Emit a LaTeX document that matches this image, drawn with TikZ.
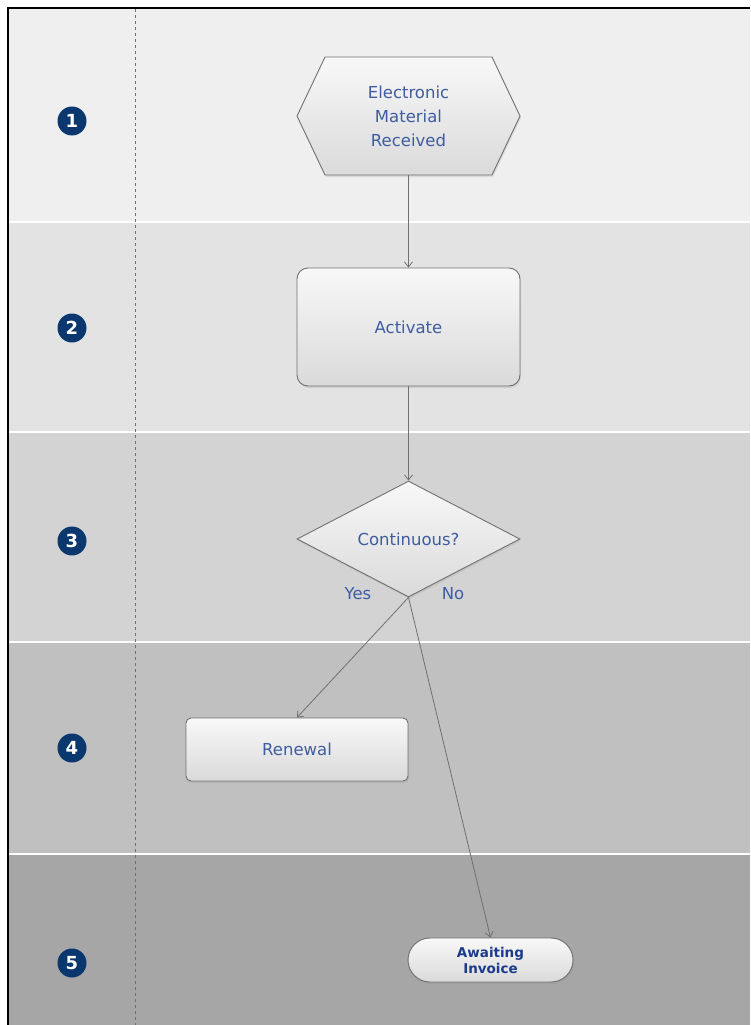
\documentclass[tikz,border=0pt]{standalone}
\usepackage{fontspec}
\setmainfont{DejaVu Sans}
\usetikzlibrary{shapes.geometric,shapes.misc,arrows.meta,shadows}
\definecolor{bandA}{RGB}{239,239,239}
\definecolor{bandB}{RGB}{227,227,227}
\definecolor{bandC}{RGB}{211,211,211}
\definecolor{bandD}{RGB}{192,192,192}
\definecolor{bandE}{RGB}{166,166,166}
\definecolor{navy}{RGB}{10,55,110}
\definecolor{txtblue}{RGB}{62,92,160}
\definecolor{boldblue}{RGB}{28,58,140}
\definecolor{edgegray}{RGB}{112,112,112}
\definecolor{boxtop}{RGB}{248,248,248}
\definecolor{boxbot}{RGB}{218,218,218}
\begin{document}
\begin{tikzpicture}[x=1pt,y=-1pt,
  num/.style={circle,fill=navy,minimum size=29pt,inner sep=0pt,text=white,font=\bfseries\fontsize{18}{18}\selectfont},
  flowtext/.style={text=txtblue,font=\fontsize{16.5}{24}\selectfont,align=center},
  boxstyle/.style={draw=edgegray,line width=0.9pt,top color=boxtop,bottom color=boxbot,
     drop shadow={opacity=0.18,shadow xshift=1pt,shadow yshift=-2pt}},
  procbox/.style={boxstyle,flowtext,rectangle,inner sep=0pt},
  conn/.style={draw=edgegray,line width=0.8pt,-{Straight Barb[length=5pt,width=8pt]}},
  lbl/.style={text=txtblue,font=\fontsize{16.5}{20}\selectfont,inner sep=1pt}
]
\useasboundingbox (0,0) rectangle (750,1025);
\fill[white] (0,0) rectangle (750,1025);
% bands
\fill[bandA] (9,9) rectangle (750,221);
\fill[bandB] (9,223) rectangle (750,431);
\fill[bandC] (9,433) rectangle (750,641);
\fill[bandD] (9,643) rectangle (750,853);
\fill[bandE] (9,855) rectangle (750,1025);
% frame
\draw[black,line width=1.6pt] (8,1025) -- (8,8) -- (750,8);
% dashed divider
\draw[edgegray,line width=0.8pt,dash pattern=on 3pt off 3pt] (135,9) -- (135,1025);
% lane numbers
\node[num] (n1) at (72,121) {1};
\node[num] (n2) at (72,328) {2};
\node[num] (n3) at (72,541) {3};
\node[num] (n4) at (72,748) {4};
\node[num] (n5) at (72,963) {5};
% hexagon start
\draw[boxstyle] (325,57) -- (492,57) -- (520,116) -- (492,175) -- (325,175) -- (297,116) -- cycle;
\node[flowtext,minimum width=223pt,minimum height=118pt,inner sep=0pt] (recv) at (408.5,116) {Electronic\\Material\\Received};
% activate
\node[procbox,rounded corners=11pt,minimum width=223pt,minimum height=118pt] (act) at (408.5,327) {Activate};
% decision
\node[boxstyle,flowtext,diamond,inner sep=0pt,minimum width=223pt,minimum height=116pt] (dec) at (408.5,539) {Continuous?};
\node[lbl] (yes) at (358,594) {Yes};
\node[lbl] (no) at (453,594) {No};
% renewal
\node[procbox,rounded corners=5pt,minimum width=222pt,minimum height=63pt] (ren) at (297,749.5) {Renewal};
% awaiting invoice
\node[boxstyle,rounded rectangle,inner sep=0pt,minimum width=165pt,minimum height=44pt,
  text=boldblue,align=center,font=\bfseries\fontsize{13.5}{16}\selectfont] (aw) at (490.5,960) {Awaiting\\Invoice};
% connectors
\draw[conn] (recv.south) -- (act.north);
\draw[conn] (act.south) -- (dec.north);
\draw[conn] (dec.south) -- (ren.north);
\draw[conn] (dec.south) -- (aw.north);
\end{tikzpicture}
\end{document}
